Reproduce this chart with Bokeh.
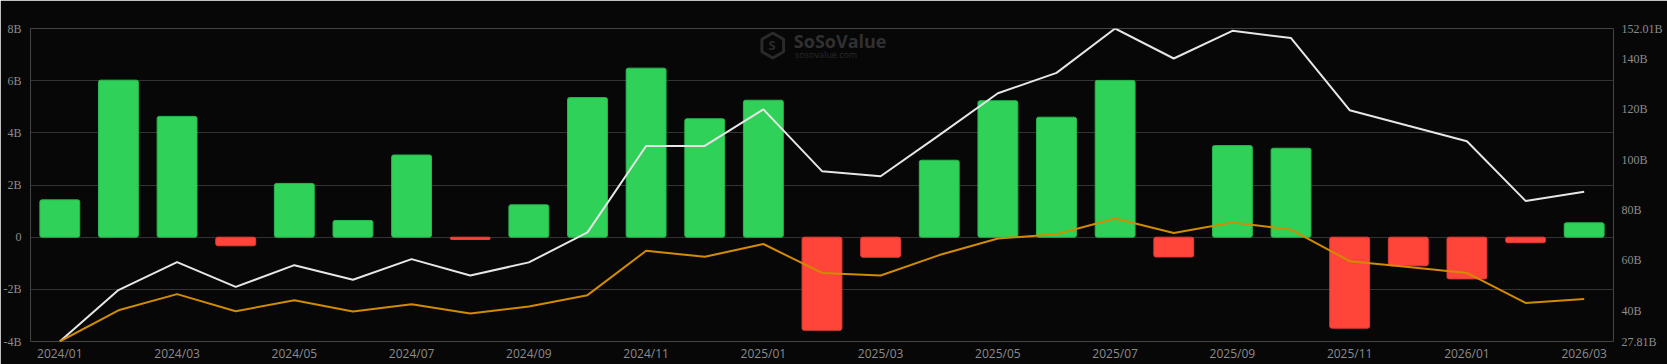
from bokeh.plotting import figure
from bokeh.models import (Range1d, LinearAxis, FixedTicker, CustomJSTickFormatter,
                          ColumnDataSource, Label)
from bokeh.embed import file_html
from bokeh.resources import INLINE
from math import pi

months = ["2024/01", "2024/02", "2024/03", "2024/04", "2024/05", "2024/06", "2024/07",
          "2024/08", "2024/09", "2024/10", "2024/11", "2024/12", "2025/01", "2025/02",
          "2025/03", "2025/04", "2025/05", "2025/06", "2025/07", "2025/08", "2025/09",
          "2025/10", "2025/11", "2025/12", "2026/01", "2026/02", "2026/03"]

# monthly net inflow (B USD), left axis
net_inflow = [1.43, 6.02, 4.63, -0.33, 2.06, 0.64, 3.15, -0.09, 1.24, 5.35, 6.48, 4.54,
              5.25, -3.57, -0.77, 2.95, 5.23, 4.60, 6.01, -0.76, 3.51, 3.41, -3.49,
              -1.10, -1.60, -0.21, 0.55]

# right axis series (B USD)
total_value = [27.81, 48.2, 59.3, 49.5, 58.1, 52.3, 60.5, 54.0, 59.2, 71.1, 105.4, 105.4,
               119.9, 95.4, 93.4, 109.7, 126.3, 134.4, 152.01, 140.1, 151.1, 148.2,
               119.6, 113.4, 107.3, 83.6, 87.2]
cum_inflow = [27.81, 40.2, 46.6, 39.8, 44.2, 39.7, 42.6, 38.9, 41.7, 46.2, 63.8, 61.4,
              66.5, 55.0, 54.0, 62.1, 68.7, 70.4, 76.6, 70.9, 75.0, 72.2, 59.7, 57.4,
              55.0, 43.1, 44.7]

left_ticks = [-4, -2, 0, 2, 4, 6, 8]
right_ticks = [27.81, 40, 60, 80, 100, 120, 140, 152.01]

BG = "#070707"
GREEN = "#30d158"
GREEN_EDGE = "#2bb84f"
RED = "#ff453a"
RED_EDGE = "#e03c33"
WHITE = "#e6e6e6"
ORANGE = "#d18b00"
LABEL = "#8c8c8c"

idx = list(range(len(months)))
src = ColumnDataSource(dict(
    x=idx,
    top=net_inflow,
    color=[GREEN if v >= 0 else RED for v in net_inflow],
    edge=[GREEN_EDGE if v >= 0 else RED_EDGE for v in net_inflow],
    total=total_value,
    cum=cum_inflow,
))

p = figure(width=1667, height=364, output_backend="svg", toolbar_location=None,
           x_range=Range1d(-0.5, len(months) - 0.5),
           y_range=Range1d(left_ticks[0], left_ticks[-1]),
           background_fill_color=BG, border_fill_color=BG,
           min_border_left=29, min_border_right=54, min_border_top=28,
           min_border_bottom=23)
p.outline_line_color = None
p.extra_y_ranges = {"right": Range1d(right_ticks[0], right_ticks[-1])}

# grid
p.xgrid.visible = False
p.ygrid.grid_line_color = "#333333"
p.ygrid.grid_line_width = 1
p.ygrid.ticker = FixedTicker(ticks=left_ticks)


def style_axis(ax, font, size, standoff):
    ax.axis_line_color = None
    ax.major_tick_line_color = None
    ax.minor_tick_line_color = None
    ax.major_tick_out = 0
    ax.major_tick_in = 0
    ax.minor_tick_out = 0
    ax.minor_tick_in = 0
    ax.major_label_text_color = LABEL
    ax.major_label_text_font = font
    ax.major_label_text_font_size = size
    ax.major_label_standoff = standoff


# left axis
ya = p.yaxis[0]
ya.ticker = FixedTicker(ticks=left_ticks)
ya.formatter = CustomJSTickFormatter(code="return tick == 0 ? '0' : tick + 'B';")
style_axis(ya, "Liberation Serif", "12px", 9)

# right axis
ra = LinearAxis(y_range_name="right")
ra.ticker = FixedTicker(ticks=right_ticks)
ra.formatter = CustomJSTickFormatter(
    code="return (Number.isInteger(tick) ? tick : tick.toFixed(2)) + 'B';")
style_axis(ra, "Liberation Serif", "12px", 8)
p.add_layout(ra, "right")

# x axis
xa = p.xaxis[0]
xa.ticker = FixedTicker(ticks=idx[::2])
xa.major_label_overrides = {i: months[i] for i in idx[::2]}
style_axis(xa, "Open Sans", "12px", 3)

# watermark
p.scatter(x=[12.16], y=[7.35], marker="hex", size=25, angle=pi / 6,
          fill_color=None, line_color="#2a2a2a", line_width=3)
p.add_layout(Label(x=12.15, y=7.35, text="S", text_color="#2a2a2a",
                   text_font="Open Sans", text_font_style="bold",
                   text_font_size="13px", text_align="center",
                   text_baseline="middle"))
p.add_layout(Label(x=12.52, y=7.52, text="SoSoValue", text_color="#303030",
                   text_font="Open Sans", text_font_style="bold",
                   text_font_size="18px", text_baseline="middle"))
p.add_layout(Label(x=12.54, y=7.02, text="sosovalue.com", text_color="#2a2a2a",
                   text_font="Open Sans", text_font_size="9px",
                   text_baseline="middle"))

# bars
p.vbar(x="x", top="top", bottom=0, width=0.68, source=src, fill_color="color",
       line_color="edge", line_width=1, border_radius=2)

# lines
p.line(x="x", y="total", source=src, y_range_name="right", line_color=WHITE,
       line_width=2)
p.line(x="x", y="cum", source=src, y_range_name="right", line_color=ORANGE,
       line_width=2)

open("out.html", "w").write(file_html(p, INLINE))
